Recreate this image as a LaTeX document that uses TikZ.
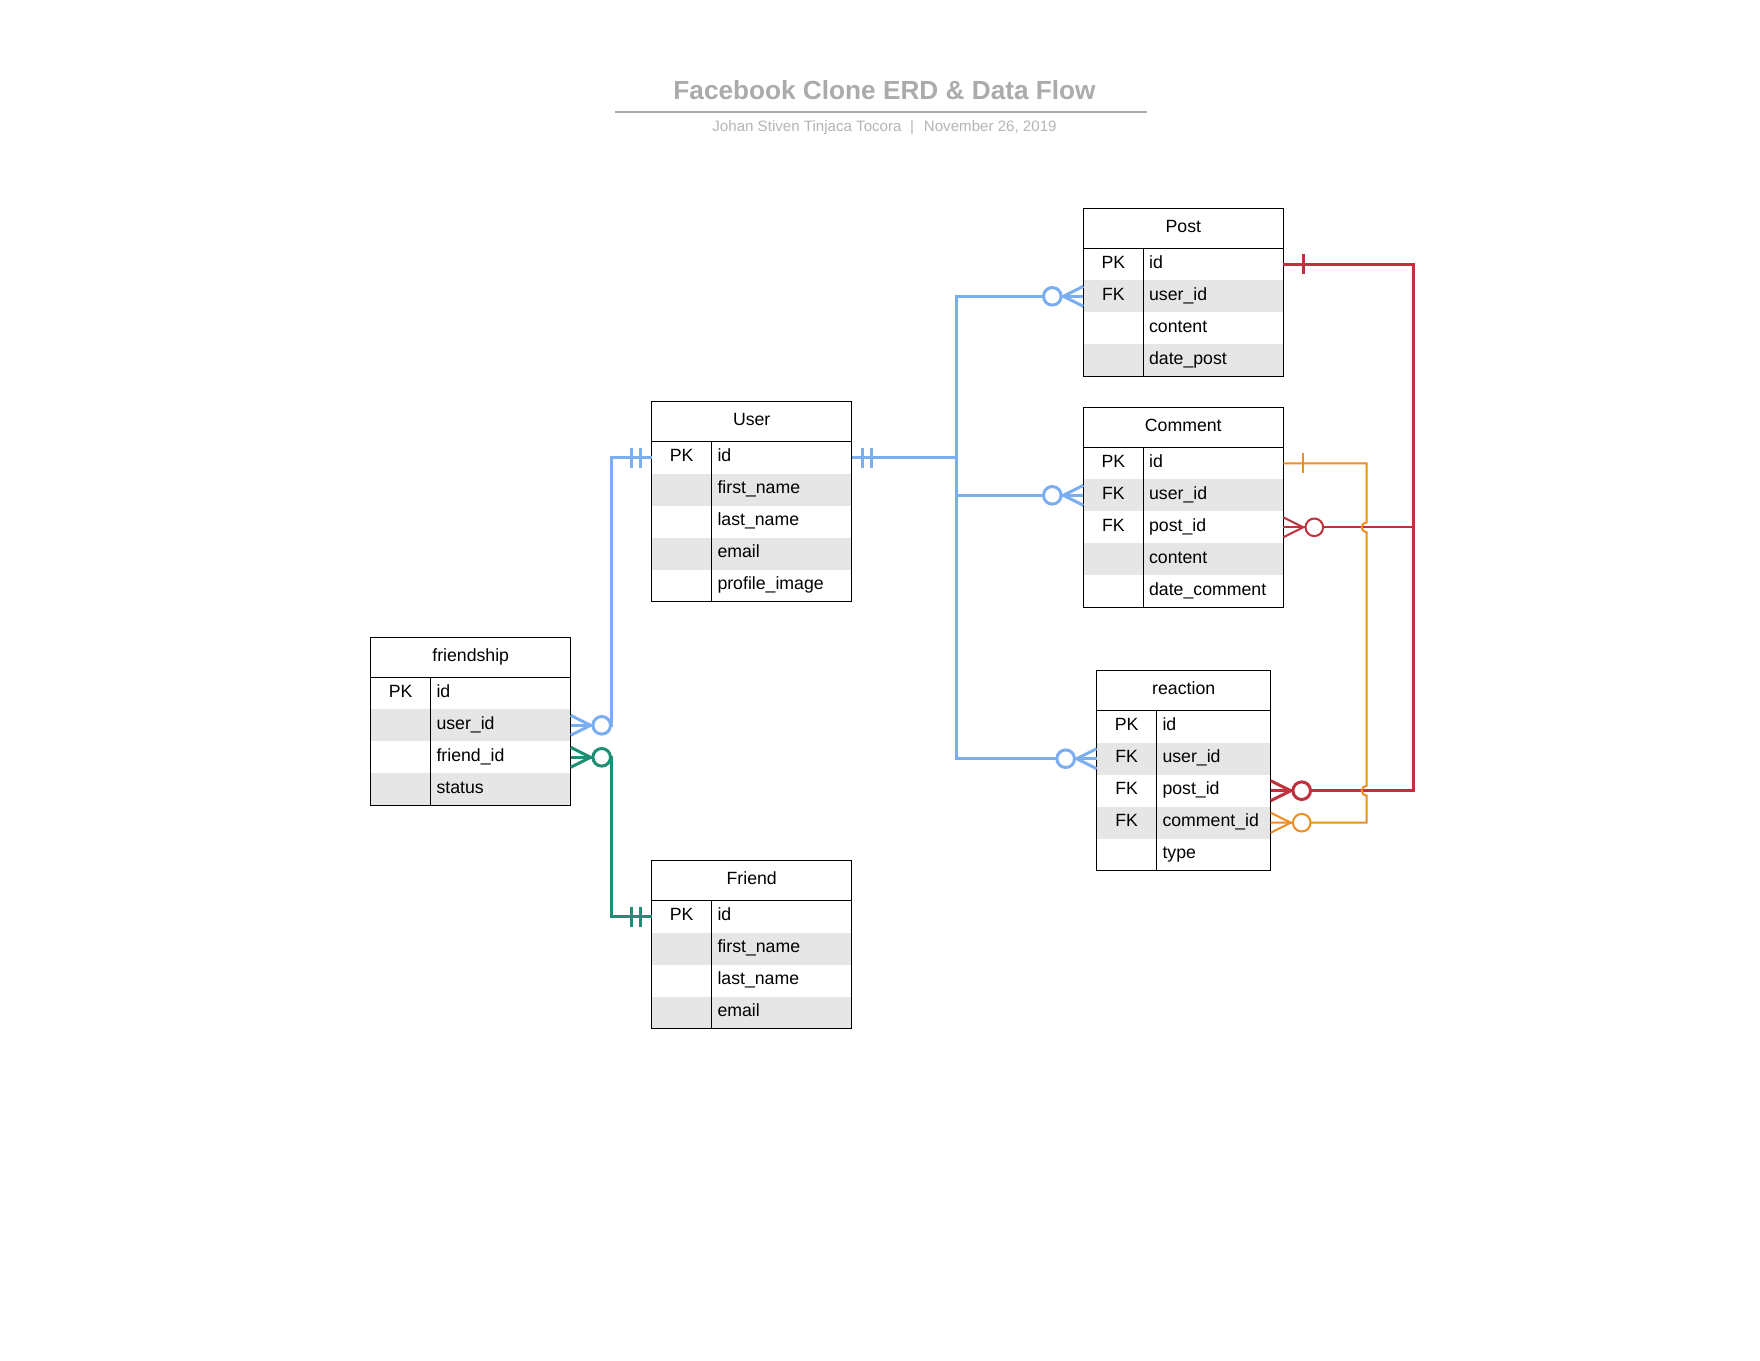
\documentclass[tikz,border=0pt]{standalone}
\usepackage{fontspec}
\setmainfont{Liberation Sans}
\usetikzlibrary{calc}
\definecolor{erdblue}{HTML}{7BAEF0}
\definecolor{erdred}{HTML}{C1303D}
\definecolor{erdgreen}{HTML}{1F8E74}
\definecolor{erdorange}{HTML}{EF8D22}
\definecolor{rowgray}{HTML}{E6E6E6}
\definecolor{titlegray}{HTML}{ABABAB}
\definecolor{subgray}{HTML}{B5B5B5}
\tikzset{
  hdrbox/.style={inner sep=0pt, outer sep=0pt, minimum height=40pt, fill=white},
  rowbox/.style={inner sep=0pt, outer sep=0pt, minimum height=32pt},
  hdrtxt/.style={inner sep=0pt, anchor=base, font=\fontsize{17.7}{20}\selectfont},
  celltxt/.style={inner sep=0pt, font=\fontsize{17.7}{20}\selectfont},
  tableline/.style={draw=black, line width=1.3pt},
  bluecon/.style={draw=erdblue, line width=3pt},
  greencon/.style={draw=erdgreen, line width=3pt},
  redthick/.style={draw=erdred, line width=3pt},
  redthin/.style={draw=erdred, line width=2pt},
  orcon/.style={draw=erdorange, line width=2pt},
  titletxt/.style={inner sep=0pt, text=titlegray, font=\fontsize{26.2}{30}\selectfont\bfseries},
  subtxt/.style={inner sep=0pt, text=subgray, font=\fontsize{15.1}{18}\selectfont},
  titlerule/.style={draw=titlegray, line width=1.6pt}
}
% #1 name, #2 left, #3 top, #4 width, #5 title, #6 number of rows, #7 rows
\newcommand{\erdtable}[7]{%
  \node[hdrbox, minimum width=#4pt, anchor=north west] (#1) at (#2,#3) {};
  \node[hdrtxt] (#1-t) at ($(#1.center)+(0,4)$) {#5};
  \foreach \kk/\fld [count=\i] in {#7} {
    \ifodd\i\relax\def\rowfill{white}\else\def\rowfill{rowgray}\fi
    \node[rowbox, minimum width=#4pt, fill=\rowfill, anchor=north west] (#1-\i) at ($(#1.south west)+(0,{(\i-1)*32})$) {};
    \node[celltxt, anchor=base] (#1-k\i) at ($(#1-\i.west)+(30,4)$) {\kk};
    \node[celltxt, anchor=base west] (#1-f\i) at ($(#1-\i.west)+(65.6,4)$) {\fld};
  }
  \draw[tableline] (#1.north west) rectangle (#1-#6.south east);
  \draw[tableline] (#1.south west) -- (#1.south east);
  \draw[tableline] ($(#1.south west)+(60,0)$) -- ($(#1-#6.south west)+(60,0)$);
}
% markers: #1 anchor, #2 direction (1 right, -1 left), #3 style
\newcommand{\onetick}[3]{%
  \draw[#3] ($(#1)+(#2*20,-10)$) -- ($(#1)+(#2*20,10)$);}
\newcommand{\twobar}[3]{%
  \draw[#3] ($(#1)+(#2*11,-10)$) -- ($(#1)+(#2*11,10)$);
  \draw[#3] ($(#1)+(#2*20,-10)$) -- ($(#1)+(#2*20,10)$);}
\newcommand{\zeromany}[3]{%
  \draw[#3] ($(#1)+(0,-10)$) -- ($(#1)+(#2*20,0)$) -- ($(#1)+(0,10)$);
  \draw[#3, fill=white] ($(#1)+(#2*31,0)$) circle[radius=8.8pt];}
\begin{document}
\begin{tikzpicture}[x=1pt, y=-1pt]
\useasboundingbox (0,0) rectangle (1760,1360);
\fill[white] (0,0) rectangle (1760,1360);

% title
\node[titletxt, anchor=base] (title) at (884.5,99.3) {Facebook Clone ERD \& Data Flow};
\draw[titlerule] (615,111.7) -- (1147.4,111.7);
\node[subtxt, anchor=base] (subtitle) at (884.5,131.7) {Johan Stiven Tinjaca Tocora\hspace{8.5pt}|\hspace{10pt}November 26, 2019};

% tables
\erdtable{post}{1083.3}{208.3}{200}{Post}{4}{PK/id, FK/user\_id, /content, /date\_post}
\erdtable{user}{651.7}{401.7}{200}{User}{5}{PK/id, /first\_name, /last\_name, /email, /profile\_image}
\erdtable{comment}{1083.3}{407.3}{200}{Comment}{5}{PK/id, FK/user\_id, FK/post\_id, /content, /date\_comment}
\erdtable{friendship}{370.7}{637.3}{200}{friendship}{4}{PK/id, /user\_id, /friend\_id, /status}
\erdtable{reaction}{1096.7}{670.7}{174}{reaction}{5}{PK/id, FK/user\_id, FK/post\_id, FK/comment\_id, /type}
\erdtable{friend}{651.7}{860.7}{200}{Friend}{4}{PK/id, /first\_name, /last\_name, /email}

% connectors
\coordinate (bluej) at ($(user-1.east)+(105,0)$);
\draw[bluecon] (user-1.east) -- (bluej) |- (post-2.west);
\draw[bluecon] (bluej) |- (comment-2.west);
\draw[bluecon] (bluej) |- (reaction-2.west);
\draw[bluecon] (friendship-2.east) -- ++(41,0) |- (user-1.west);
\draw[greencon] (friendship-3.east) -- ++(41,0) |- (friend-1.west);

\coordinate (redx) at ($(post-1.east)+(130,0)$);
\draw[redthick] (post-1.east) -- (redx) |- (reaction-3.east);
\draw[redthin] (comment-3.east) -- (comment-3.east -| redx);

\coordinate (orx) at ($(comment-1.east)+(83.4,0)$);
\draw[orcon] (comment-1.east) -- (orx)
  -- ($(orx |- comment-3.east)+(0,-5)$) arc[start angle=90, end angle=270, radius=5pt]
  -- ($(orx |- reaction-3.east)+(0,-5)$) arc[start angle=90, end angle=270, radius=5pt]
  |- (reaction-4.east);

% markers
\twobar{user-1.east}{1}{bluecon}
\twobar{user-1.west}{-1}{bluecon}
\zeromany{post-2.west}{-1}{bluecon}
\zeromany{comment-2.west}{-1}{bluecon}
\zeromany{reaction-2.west}{-1}{bluecon}
\zeromany{friendship-2.east}{1}{bluecon}
\zeromany{friendship-3.east}{1}{greencon}
\twobar{friend-1.west}{-1}{greencon}
\onetick{post-1.east}{1}{redthick}
\zeromany{reaction-3.east}{1}{redthick}
\zeromany{comment-3.east}{1}{redthin}
\onetick{comment-1.east}{1}{orcon}
\zeromany{reaction-4.east}{1}{orcon}
\end{tikzpicture}
\end{document}
